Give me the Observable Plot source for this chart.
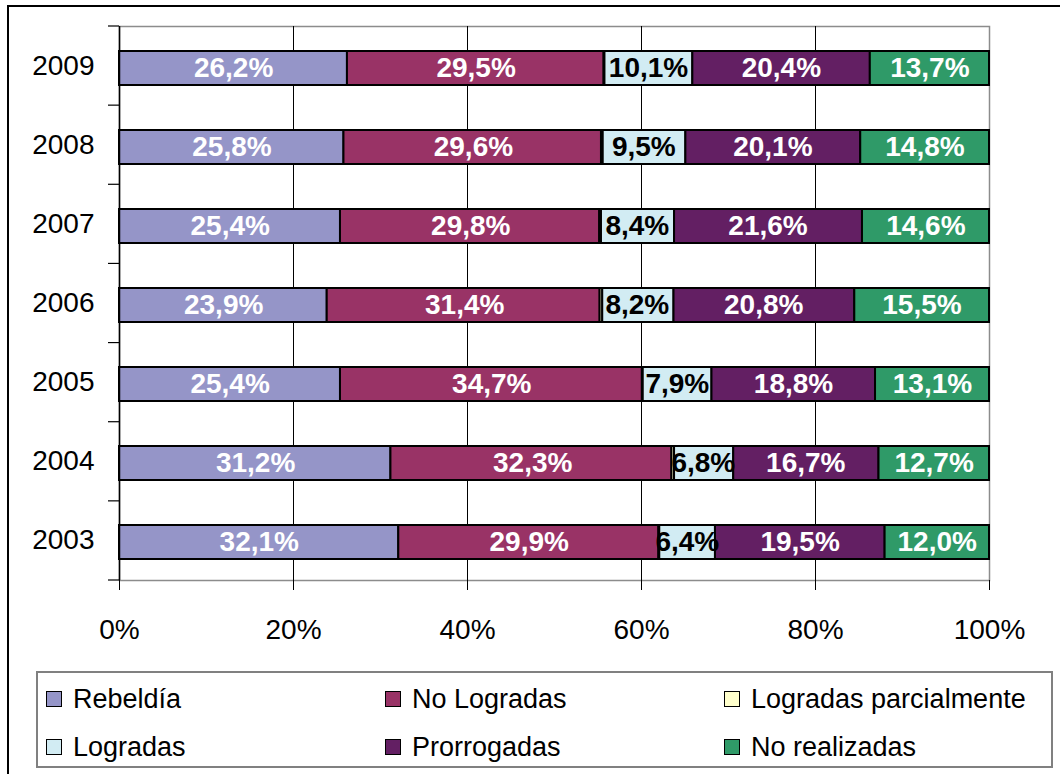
<!DOCTYPE html>
<html>
<head>
<meta charset="utf-8">
<script src="https://cdn.jsdelivr.net/npm/d3@7"></script>
<script src="https://cdn.jsdelivr.net/npm/@observablehq/plot@0.6"></script>
<style>
  html, body { margin: 0; padding: 0; background: #fff; }
  body { width: 1060px; height: 774px; position: relative; overflow: hidden; font-family: "Liberation Sans", Arial, sans-serif; }
  #frame { position: absolute; left: 7px; top: 5px; width: 1100px; height: 800px; border-left: 2px solid #000; border-top: 2px solid #000; box-sizing: border-box; }
  #chart { position: absolute; left: 0; top: 0; }
  #legend { position: absolute; left: 36px; top: 671px; width: 1017px; height: 97px; border: 2px solid #808080; box-sizing: border-box; background: #fff; }
  .item { position: absolute; display: flex; align-items: center; font-size: 27px; color: #000; white-space: nowrap; }
  .sw { width: 14px; height: 14px; border: 1.5px solid #000; margin-right: 11px; flex: none; }
</style>
</head>
<body>
<div id="frame"></div>
<div id="chart"></div>
<div id="legend"></div>
<script>
// ---- data ----
const years = ["2003", "2004", "2005", "2006", "2007", "2008", "2009"];
const seriesNames = ["Rebeldía", "No Logradas", "Logradas parcialmente", "Logradas", "Prorrogadas", "No realizadas"];
const seriesColors = ["#9595c8", "#993366", "#ffffcc", "#d2ecf3", "#631f63", "#2f9a68"];
const rebeldia     = [32.1, 31.2, 25.4, 23.9, 25.4, 25.8, 26.2];
const noLogradas   = [29.9, 32.3, 34.7, 31.4, 29.8, 29.6, 29.5];
const parcial      = [0.1, 0.3, 0.1, 0.3, 0.2, 0.2, 0.1];
const logradas     = [6.4, 6.8, 7.9, 8.2, 8.4, 9.5, 10.1];
const prorrogadas  = [19.5, 16.7, 18.8, 20.8, 21.6, 20.1, 20.4];
const noRealizadas = [12.0, 12.7, 13.1, 15.5, 14.6, 14.8, 13.7];
const xTicks = [0, 0.2, 0.4, 0.6, 0.8, 1];

const seriesValues = [rebeldia, noLogradas, parcial, logradas, prorrogadas, noRealizadas];
const rows = [];
years.forEach((yr, i) => {
  seriesNames.forEach((s, j) => rows.push({year: yr, series: s, value: seriesValues[j][i]}));
});

const fmt = v => v.toFixed(1).replace(".", ",") + "%";
const W = 1060, H = 660, mT = 26, mB = 80, mL = 119, mR = 71;
const yDomain = years.slice().reverse();

const bandTicks = (index, scales, values, dims) => {
  const g = d3.create("svg:g");
  const n = yDomain.length;
  const step = (dims.height - dims.marginTop - dims.marginBottom) / n;
  for (let i = 0; i <= n; i++) {
    const yy = dims.marginTop + i * step;
    g.append("line").attr("x1", dims.marginLeft - 11).attr("x2", dims.marginLeft)
      .attr("y1", yy).attr("y2", yy).attr("stroke", "#000").attr("stroke-width", 1.2);
  }
  return g.node();
};

const plot = Plot.plot({
  width: W, height: H,
  marginTop: mT, marginBottom: mB, marginLeft: mL, marginRight: mR,
  style: {fontFamily: "'Liberation Sans', Arial, sans-serif", background: "transparent", overflow: "visible"},
  x: {domain: [0, 1], axis: null},
  y: {domain: yDomain, paddingInner: 0.57, paddingOuter: 0.285, axis: null},
  color: {domain: seriesNames, range: seriesColors},
  marks: [
    Plot.frame({stroke: "#8c8c8c", strokeWidth: 1.5}),
    Plot.ruleX([0.2, 0.4, 0.6, 0.8], {stroke: "#000", strokeWidth: 1}),
    Plot.barX(rows, Plot.stackX({x: "value", y: "year", fill: "series", offset: "normalize", stroke: "#000", strokeWidth: 2, dy: 2})),
    Plot.text(rows.filter(d => d.series !== "Logradas parcialmente"), Plot.stackX({
      x: "value", y: "year", z: "series", offset: "normalize",
      text: d => fmt(d.value),
      fill: d => d.series === "Logradas" ? "#000" : "#fff",
      fontSize: 28, fontWeight: "bold", dy: 2
    })),
    Plot.ruleX([0], {stroke: "#000", strokeWidth: 1.5}),
    Plot.axisX({ticks: xTicks, tickFormat: d => Math.round(d * 100) + "%", tickSize: 10, tickPadding: 29, fontSize: 28, label: null, stroke: "#000"}),
    Plot.axisY({tickSize: 0, tickPadding: 25, fontSize: 28, label: null}),
    bandTicks
  ]
});
document.getElementById("chart").appendChild(plot);

// legend
const legend = document.getElementById("legend");
const colX = [8, 347, 686];
const rowY = [26, 74];
seriesNames.forEach((s, i) => {
  const r = Math.floor(i / 3), c = i % 3;
  const it = document.createElement("div");
  it.className = "item";
  it.style.left = colX[c] + "px";
  it.style.top = (rowY[r] - 16) + "px";
  it.style.height = "32px";
  const sw = document.createElement("div");
  sw.className = "sw";
  sw.style.background = seriesColors[i];
  const tx = document.createElement("span");
  tx.textContent = s;
  it.appendChild(sw); it.appendChild(tx);
  legend.appendChild(it);
});
</script>
</body>
</html>
